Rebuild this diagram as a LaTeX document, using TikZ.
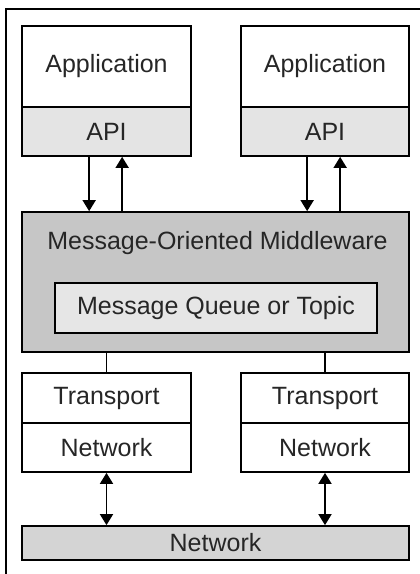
\documentclass[tikz,border=0pt]{standalone}
\usepackage{fontspec}
\setmainfont{Liberation Sans}
\usetikzlibrary{arrows.meta,calc}
\definecolor{txt}{HTML}{262626}
\definecolor{apigray}{HTML}{E4E4E4}
\definecolor{momgray}{HTML}{C6C6C6}
\definecolor{mqgray}{HTML}{E6E6E6}
\definecolor{netgray}{HTML}{D4D4D4}
\tikzset{
  box/.style={draw=black,line width=1.7pt,rectangle,inner sep=0pt,text=txt,
    font=\fontsize{25}{28}\selectfont},
  lbl/.style={text=txt,inner sep=0pt,font=\fontsize{25}{28}\selectfont},
  arr/.style={line width=1.7pt,-{Triangle[width=13pt,length=11pt]}},
  darr/.style={line width=1.7pt,{Triangle[width=13pt,length=11pt]}-{Triangle[width=13pt,length=11pt]}},
  ln/.style={line width=1.7pt}
}
\begin{document}
\begin{tikzpicture}[x=1pt,y=-1pt]
\useasboundingbox (0,0) rectangle (420,574);
\fill[white] (0,0) rectangle (420,574);
% outer frame
\coordinate (fbl) at (6,580);
\coordinate (ftl) at (6,9);
\coordinate (ftr) at (430,9);
\draw[ln] (fbl) -- (ftl) -- (ftr);
% application stacks
\node[box,fill=white,minimum width=169pt,minimum height=81pt] (app1) at (106.5,66.5) {Application};
\node[box,fill=apigray,minimum width=169pt,minimum height=49pt] (api1) at (106.5,131.5) {API};
\node[box,fill=white,minimum width=168pt,minimum height=81pt] (app2) at (325,66.5) {Application};
\node[box,fill=apigray,minimum width=168pt,minimum height=49pt] (api2) at (325,131.5) {API};
% middleware
\node[box,fill=momgray,minimum width=387pt,minimum height=140pt] (mom) at (215.5,282) {};
\node[lbl] (momlbl) at (217.5,243) {Message-Oriented Middleware};
\node[box,fill=mqgray,minimum width=322pt,minimum height=50pt] (mq) at (216,308) {Message Queue or Topic};
% transport stacks
\node[box,fill=white,minimum width=169pt,minimum height=50pt] (tr1) at (106.5,398) {Transport};
\node[box,fill=white,minimum width=169pt,minimum height=49pt] (net1) at (106.5,447.5) {Network};
\node[box,fill=white,minimum width=168pt,minimum height=50pt] (tr2) at (325,398) {Transport};
\node[box,fill=white,minimum width=168pt,minimum height=49pt] (net2) at (325,447.5) {Network};
% bottom network
\node[box,fill=netgray,minimum width=387pt,minimum height=34pt] (net) at (215.5,543) {Network};
% arrows API <-> middleware
\draw[arr] ([xshift=68pt]api1.south west) -- ([xshift=68pt]api1.south west |- mom.north);
\draw[arr] ([xshift=101pt]api1.south west |- mom.north) -- ([xshift=101pt]api1.south west);
\draw[arr] ([xshift=67pt]api2.south west) -- ([xshift=67pt]api2.south west |- mom.north);
\draw[arr] ([xshift=100pt]api2.south west |- mom.north) -- ([xshift=100pt]api2.south west);
% middleware to transport
\draw[ln] (mom.south -| tr1.north) -- (tr1.north);
\draw[ln] (mom.south -| tr2.north) -- (tr2.north);
% network double arrows
\draw[darr] (net1.south) -- (net1.south |- net.north);
\draw[darr] (net2.south) -- (net2.south |- net.north);
\end{tikzpicture}
\end{document}
